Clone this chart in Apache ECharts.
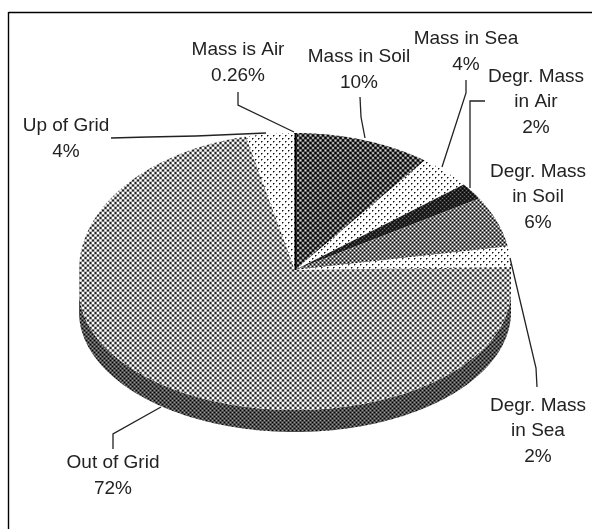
<!DOCTYPE html>
<html><head><meta charset="utf-8">
<style>html,body{margin:0;padding:0;background:#fff}#c{width:592px;height:529px}</style>
<script src="https://cdn.jsdelivr.net/npm/echarts@6/dist/echarts.min.js"></script>
</head><body><div id="c"></div>
<script>
const categories=['Mass is Air','Mass in Soil','Mass in Sea','Degr. Mass in Air','Degr. Mass in Soil','Degr. Mass in Sea','Out of Grid','Up of Grid'];
const values=[0.26,10,4,2,6,2.4,71.7,3.64];
const labelLines=[['Mass is Air','0.26%'],['Mass in Soil','10%'],['Mass in Sea','4%'],['Degr. Mass','in Air','2%'],['Degr. Mass','in Soil','6%'],['Degr. Mass','in Sea','2%'],['Out of Grid','72%'],['Up of Grid','4%']];
const patternNames=['dark','dark','dots','black','gray','dots','light','dots'];

// geometry of the tilted disc
const cx=295,cy=270,rx=216,ryTop=137,cyLow=290,ryLow=120,depth=22;

function tone(P,mid,amp){
  const c=document.createElement('canvas');c.width=P;c.height=P;const g=c.getContext('2d');
  for(let y=0;y<P;y++)for(let x=0;x<P;x++){
    const v=(Math.cos(2*Math.PI*(x+y)/P)+Math.cos(2*Math.PI*(x-y)/P))/2;
    const l=Math.max(0,Math.min(1,mid+amp*v));const k=Math.round(l*255);
    g.fillStyle=`rgb(${k},${k},${k})`;g.fillRect(x,y,1,1);
  }
  return {image:c,repeat:'repeat'};
}
function dotted(){
  const c=document.createElement('canvas');c.width=6;c.height=6;const g=c.getContext('2d');
  g.fillStyle='#fff';g.fillRect(0,0,6,6);
  g.fillStyle='#111';g.fillRect(0,0,1,1);g.fillRect(3,3,1,1);
  g.fillStyle='#888';[[1,0],[0,1],[4,3],[3,4]].forEach(p=>g.fillRect(p[0],p[1],1,1));
  return {image:c,repeat:'repeat'};
}
const patterns={
  dark:tone(5,0.30,0.55),
  dots:dotted(),
  black:tone(4,0.14,0.3),
  gray:tone(4,0.46,0.6),
  light:tone(5,0.62,0.6),
  side:tone(4,0.30,0.3)
};

function point(a,dy){
  const c=Math.cos(a),lower=c<0;
  return [cx+rx*Math.sin(a),(lower?cyLow-ryLow*c:cy-ryTop*c)+dy];
}
function arc(a0,a1,dy){
  const n=Math.max(2,Math.ceil((a1-a0)*80)),p=[];
  for(let i=0;i<=n;i++)p.push(point(a0+(a1-a0)*i/n,dy));
  return p;
}
const total=values.reduce((a,b)=>a+b,0);
const rows=[];let acc=0;
values.forEach((v,i)=>{rows.push([i,acc,acc+v]);acc+=v;});
const ang=v=>v/total*2*Math.PI;

const leaders=[
 [[238,92],[238,105],[294,132]],
 [[360,97],[361,117],[365,138]],
 [[466,80],[466,93],[442,167]],
 [[485,101],[470,101],[470,188]],
 [[510,258],[536,368],[537,387]],
 [[161,407],[113,434],[113,449]],
 [[111,138],[148,137],[196,136],[266,133]]
];
const labelPos=[[238,63],[359,70],[466,52],[536,102],[538,197],[538,431],[113,476],[66,139]];

const chart=echarts.init(document.getElementById('c'),null,{renderer:'canvas'});
chart.setOption({
 animation:false,backgroundColor:'#fff',
 series:[{
  type:'custom',coordinateSystem:'none',silent:true,
  data:rows,
  renderItem(params,api){
   const i=api.value(0),a0=ang(api.value(1)),a1=ang(api.value(2));
   const children=[];
   const s0=Math.max(a0,Math.PI/2+1e-4),s1=Math.min(a1,Math.PI*1.5-1e-4);
   if(s1>s0){
     const top=arc(s0,s1,0),bot=arc(s0,s1,depth).reverse();
     children.push({type:'polygon',shape:{points:top.concat(bot)},style:{fill:patterns.side}});
   }
   const pts=[[cx,cy]].concat(arc(a0,a1,0));
   children.push({type:'polygon',shape:{points:pts},style:{fill:patterns[patternNames[i]]}});
   return {type:'group',children};
  }
 }],
 graphic:[
  {type:'line',shape:{x1:8.5,y1:12.5,x2:592,y2:12.5},style:{stroke:'#000',lineWidth:1.4}},
  {type:'line',shape:{x1:8.5,y1:12,x2:8.5,y2:529},style:{stroke:'#000',lineWidth:1.4}},
  {type:'line',shape:{x1:295.5,y1:133,x2:295.5,y2:270},style:{stroke:'#000',lineWidth:2},z:5},
  ...leaders.map(l=>({type:'polyline',shape:{points:l},style:{stroke:'#222',lineWidth:1.3,fill:null},z:6})),
  ...labelLines.map((t,i)=>({type:'text',x:labelPos[i][0],y:labelPos[i][1],z:7,style:{text:t.join('\n'),align:'center',verticalAlign:'middle',font:'19px "Liberation Sans", Arial, sans-serif',lineHeight:25.5,fill:'#222'}}))
 ]
});
</script></body></html>
